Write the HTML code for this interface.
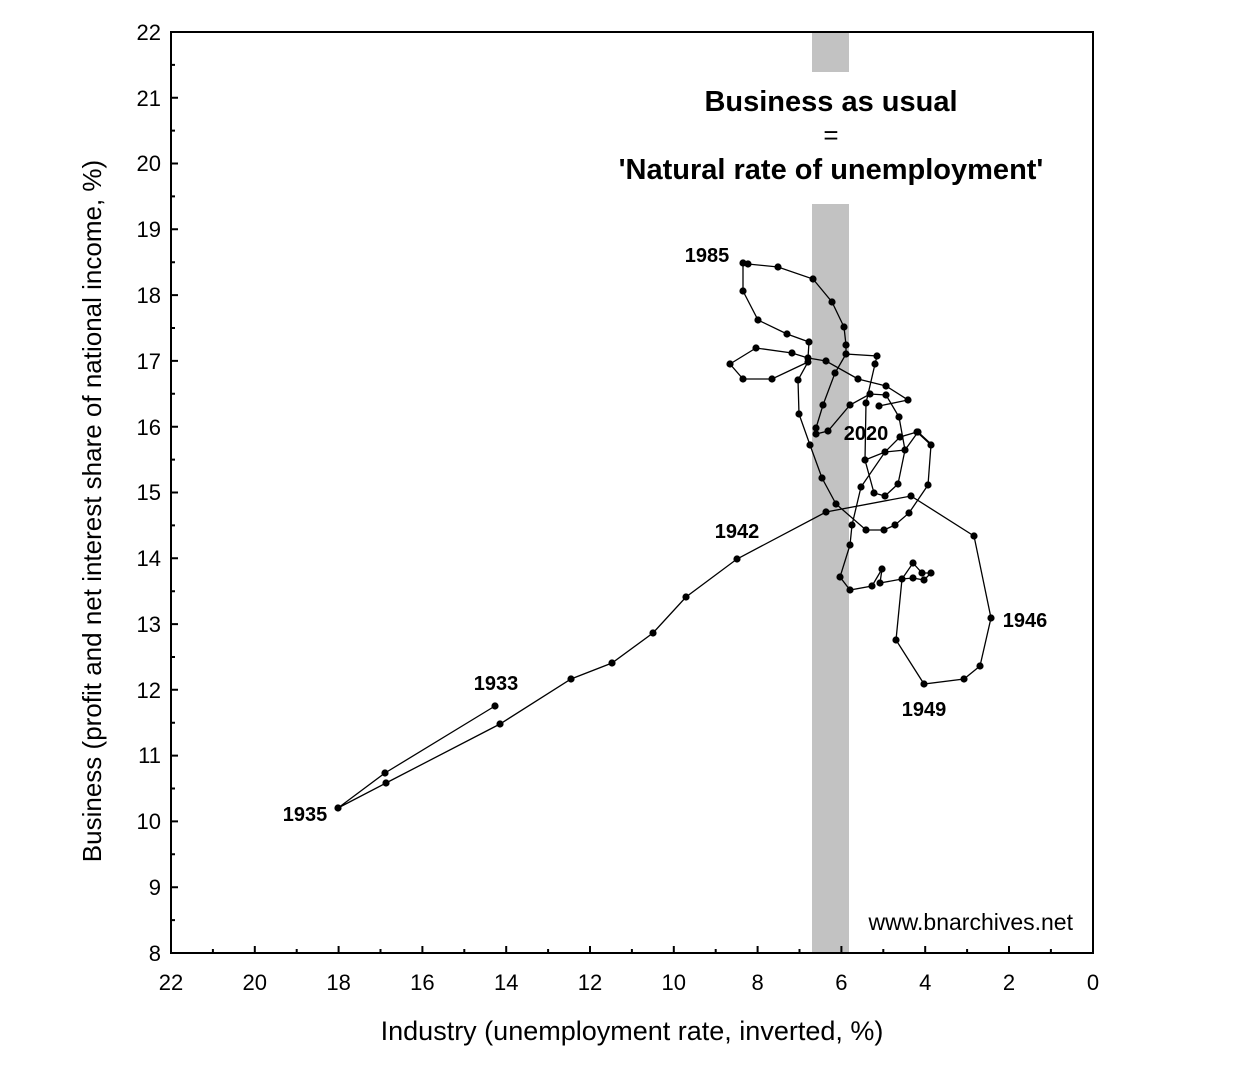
<!DOCTYPE html>
<html><head><meta charset="utf-8"><style>
html,body{margin:0;padding:0;background:#fff;}
svg{display:block;font-family:"Liberation Sans",Arial,sans-serif;}
</style></head><body>
<svg width="1242" height="1074" viewBox="0 0 1242 1074" xmlns="http://www.w3.org/2000/svg">
<rect width="1242" height="1074" fill="#fff"/>
<rect x="812" y="32" width="37" height="40" fill="#c2c2c2"/>
<rect x="812" y="204" width="37" height="749" fill="#c2c2c2"/>
<rect x="171" y="32" width="922" height="921" fill="none" stroke="#000" stroke-width="2"/>
<path stroke="#000" stroke-width="2" fill="none" d="
M171 887.2h7M171 821.4h7M171 755.6h7M171 689.8h7M171 624.1h7M171 558.3h7M171 492.5h7M171 426.7h7M171 360.9h7M171 295.1h7M171 229.3h7M171 163.5h7M171 97.7h7
M171 920.1h4M171 854.3h4M171 788.5h4M171 722.7h4M171 657h4M171 591.2h4M171 525.4h4M171 459.6h4M171 393.8h4M171 328h4M171 262.2h4M171 196.4h4M171 130.6h4M171 64.9h4
M254.8 953v-7M338.6 953v-7M422.4 953v-7M506.2 953v-7M590 953v-7M673.8 953v-7M757.6 953v-7M841.4 953v-7M925.2 953v-7M1009 953v-7
M212.9 953v-4M296.7 953v-4M380.5 953v-4M464.3 953v-4M548.1 953v-4M631.9 953v-4M715.7 953v-4M799.5 953v-4M883.3 953v-4M967.1 953v-4M1050.9 953v-4"/>
<g font-size="22" text-anchor="end" fill="#000">
<text x="161" y="961">8</text><text x="161" y="895">9</text><text x="161" y="829">10</text><text x="161" y="763">11</text><text x="161" y="698">12</text><text x="161" y="632">13</text><text x="161" y="566">14</text><text x="161" y="500">15</text><text x="161" y="435">16</text><text x="161" y="369">17</text><text x="161" y="303">18</text><text x="161" y="237">19</text><text x="161" y="171">20</text><text x="161" y="106">21</text><text x="161" y="40">22</text>
</g>
<g font-size="22" text-anchor="middle" fill="#000">
<text x="171" y="990">22</text><text x="254.8" y="990">20</text><text x="338.6" y="990">18</text><text x="422.4" y="990">16</text><text x="506.2" y="990">14</text><text x="590" y="990">12</text><text x="673.8" y="990">10</text><text x="757.6" y="990">8</text><text x="841.4" y="990">6</text><text x="925.2" y="990">4</text><text x="1009" y="990">2</text><text x="1093" y="990">0</text>
</g>
<text x="632" y="1040" font-size="27" text-anchor="middle">Industry (unemployment rate, inverted, %)</text>
<text transform="translate(101,511) rotate(-90)" font-size="26" text-anchor="middle">Business (profit and net interest share of national income, %)</text>
<g font-weight="bold" font-size="29" text-anchor="middle">
<text x="831" y="111">Business as usual</text>
<text x="831" y="144" font-weight="normal" font-size="26">=</text>
<text x="831" y="179">'Natural rate of unemployment'</text>
</g>
<text x="1073" y="930" font-size="23" text-anchor="end">www.bnarchives.net</text>
<g font-weight="bold" font-size="20" text-anchor="middle">
<text x="707" y="262">1985</text>
<text x="866" y="440">2020</text>
<text x="737" y="538">1942</text>
<text x="1025" y="627">1946</text>
<text x="924" y="716">1949</text>
<text x="496" y="690">1933</text>
<text x="305" y="821">1935</text>
</g>
<g fill="none" stroke="#000" stroke-width="1.3">
<polyline points="495,706 385,773 338,808 386,783 500,724 571,679 612,663 653,633 686,597 737,559 826,512 911,496 974,536 991,618 980,666 964,679 924,684 896,640 902,579 913,563 922,573 931,573 924,580 913,578 902,579 880,583 882,569 872,586 850,590 840,577 850,545 852,525 861,487 885,452 900,437 917,432 931,445 928,485 909,513 895,525 884,530 866,530 836,504 822,478 810,445 799,414 798,380 808,362 772,379 743,379 730,364 756,348 792,353 808,358 809,342 787,334 758,320 743,291 743,263 748,264 778,267 813,279 832,302 844,327 846,345 846,354 877,356 875,364 866,403 865,460 874,493 885,496 898,484 905,450 899,417 886,395 870,394 850,405 828,431 816,434 816,428 823,405 835,373 846,354"/>
<polyline points="808,358 826,361 858,379 886,386 908,400 879,406"/>
<polyline points="865,460 885,452 905,450 918,432 931,444"/>
</g>
<g fill="#000">
<circle cx="495" cy="706" r="3.6"/><circle cx="385" cy="773" r="3.6"/><circle cx="338" cy="808" r="3.6"/><circle cx="386" cy="783" r="3.6"/><circle cx="500" cy="724" r="3.6"/><circle cx="571" cy="679" r="3.6"/><circle cx="612" cy="663" r="3.6"/><circle cx="653" cy="633" r="3.6"/><circle cx="686" cy="597" r="3.6"/><circle cx="737" cy="559" r="3.6"/><circle cx="826" cy="512" r="3.6"/><circle cx="911" cy="496" r="3.6"/><circle cx="974" cy="536" r="3.6"/><circle cx="991" cy="618" r="3.6"/><circle cx="980" cy="666" r="3.6"/><circle cx="964" cy="679" r="3.6"/><circle cx="924" cy="684" r="3.6"/><circle cx="896" cy="640" r="3.6"/><circle cx="902" cy="579" r="3.6"/><circle cx="913" cy="563" r="3.6"/><circle cx="922" cy="573" r="3.6"/><circle cx="931" cy="573" r="3.6"/><circle cx="924" cy="580" r="3.6"/><circle cx="913" cy="578" r="3.6"/><circle cx="880" cy="583" r="3.6"/><circle cx="882" cy="569" r="3.6"/><circle cx="872" cy="586" r="3.6"/><circle cx="850" cy="590" r="3.6"/><circle cx="840" cy="577" r="3.6"/><circle cx="850" cy="545" r="3.6"/><circle cx="852" cy="525" r="3.6"/><circle cx="861" cy="487" r="3.6"/><circle cx="885" cy="452" r="3.6"/><circle cx="900" cy="437" r="3.6"/><circle cx="917" cy="432" r="3.6"/><circle cx="931" cy="445" r="3.6"/><circle cx="928" cy="485" r="3.6"/><circle cx="909" cy="513" r="3.6"/><circle cx="895" cy="525" r="3.6"/><circle cx="884" cy="530" r="3.6"/><circle cx="866" cy="530" r="3.6"/><circle cx="836" cy="504" r="3.6"/><circle cx="822" cy="478" r="3.6"/><circle cx="810" cy="445" r="3.6"/><circle cx="799" cy="414" r="3.6"/><circle cx="798" cy="380" r="3.6"/><circle cx="808" cy="362" r="3.6"/><circle cx="772" cy="379" r="3.6"/><circle cx="743" cy="379" r="3.6"/><circle cx="730" cy="364" r="3.6"/><circle cx="756" cy="348" r="3.6"/><circle cx="792" cy="353" r="3.6"/><circle cx="808" cy="358" r="3.6"/><circle cx="809" cy="342" r="3.6"/><circle cx="787" cy="334" r="3.6"/><circle cx="758" cy="320" r="3.6"/><circle cx="743" cy="291" r="3.6"/><circle cx="743" cy="263" r="3.6"/><circle cx="748" cy="264" r="3.6"/><circle cx="778" cy="267" r="3.6"/><circle cx="813" cy="279" r="3.6"/><circle cx="832" cy="302" r="3.6"/><circle cx="844" cy="327" r="3.6"/><circle cx="846" cy="345" r="3.6"/><circle cx="846" cy="354" r="3.6"/><circle cx="877" cy="356" r="3.6"/><circle cx="875" cy="364" r="3.6"/><circle cx="866" cy="403" r="3.6"/><circle cx="865" cy="460" r="3.6"/><circle cx="874" cy="493" r="3.6"/><circle cx="885" cy="496" r="3.6"/><circle cx="898" cy="484" r="3.6"/><circle cx="905" cy="450" r="3.6"/><circle cx="899" cy="417" r="3.6"/><circle cx="886" cy="395" r="3.6"/><circle cx="870" cy="394" r="3.6"/><circle cx="850" cy="405" r="3.6"/><circle cx="828" cy="431" r="3.6"/><circle cx="816" cy="434" r="3.6"/><circle cx="816" cy="428" r="3.6"/><circle cx="823" cy="405" r="3.6"/><circle cx="835" cy="373" r="3.6"/><circle cx="826" cy="361" r="3.6"/><circle cx="858" cy="379" r="3.6"/><circle cx="886" cy="386" r="3.6"/><circle cx="908" cy="400" r="3.6"/><circle cx="879" cy="406" r="3.6"/><circle cx="918" cy="432" r="3.6"/>
</g>
</svg>
</body></html>
